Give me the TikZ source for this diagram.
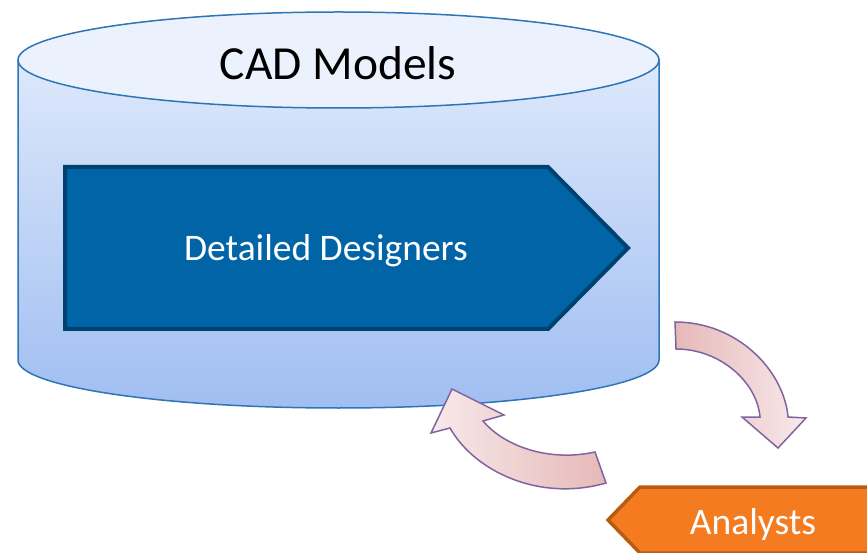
\documentclass[tikz,border=0pt]{standalone}
\usepackage{fontspec}
\setmainfont{Carlito}
\usepackage{tikz}
\usetikzlibrary{positioning}

\definecolor{cylline}{HTML}{2E75B6}
\definecolor{cyltop}{HTML}{ECF2FD}
\definecolor{cylhigh}{HTML}{DDE8FB}
\definecolor{cyllow}{HTML}{A0BEF1}
\definecolor{designfill}{HTML}{0064A7}
\definecolor{designline}{HTML}{00426F}
\definecolor{analystfill}{HTML}{F47B20}
\definecolor{analystline}{HTML}{B85C14}
\definecolor{loopdark}{HTML}{E6B9B8}
\definecolor{looplight}{HTML}{F8E9EA}
\definecolor{loopline}{HTML}{8064A2}

\begin{document}
\begin{tikzpicture}[x=1pt,y=1pt,
    cylbody/.style={draw=cylline, line width=1.5pt, top color=cylhigh, bottom color=cyllow},
    cyllid/.style={draw=cylline, line width=1.5pt, fill=cyltop},
    designer/.style={draw=designline, line width=4pt, fill=designfill, line join=miter},
    analyst/.style={draw=analystline, line width=3.5pt, fill=analystfill, line join=miter},
    loop/.style={draw=loopline, line width=1.5pt, line join=miter},
    label/.style={text=white, font=\fontsize{37.5}{42}\selectfont}]
  \useasboundingbox (0,0) rectangle (867,552);
  \clip (0,0) rectangle (867,552);

  % database cylinder
  \path[cylbody] (18,492) -- (18,192) arc (180:360:320.5 and 48) -- (659,492) -- cycle;
  \path[cyllid] (338.5,492) ellipse (320.5 and 48);
  \node (cad) at (338,489) {\fontsize{47.5}{52}\selectfont CAD Models};

  % designers chevron
  \path[designer] (65,385) -- (548,385) -- (628,304) -- (548,223) -- (65,223) -- cycle;
  \node[label] (designers) at (326,301) {Detailed Designers};

  % feedback arrows
  \path[loop, left color=loopdark, right color=looplight]
    (675,230) .. controls (738,230) and (784,181) .. (788,135)
    -- (806,134) -- (778,104) -- (742,135) -- (760,135)
    .. controls (757,170) and (720,203) .. (676,203) -- cycle;
  \path[loop, left color=looplight, right color=loopdark]
    (606,69) .. controls (540,50) and (475,80) .. (450,124)
    -- (431,119) -- (452,163) -- (504,137) -- (483,131)
    .. controls (505,105) and (550,90) .. (595,100) -- cycle;

  % analysts chevron
  \path[analyst] (900,65) -- (640,65) -- (608,32) -- (640,-1) -- (900,-1) -- cycle;
  \node[label] (analysts) at (753,28) {Analysts};
\end{tikzpicture}
\end{document}
